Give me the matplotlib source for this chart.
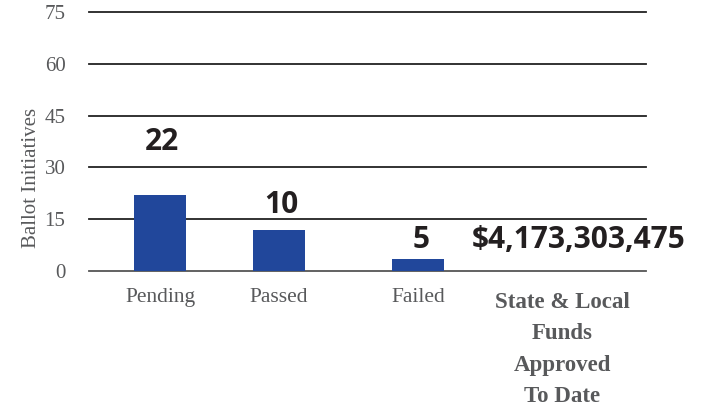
"""Ballot initiatives bar chart with state & local funds callout."""
import matplotlib
matplotlib.use("Agg")
import matplotlib.pyplot as plt

categories = ["Pending", "Passed", "Failed"]
bar_heights = [22, 12, 3.5]
value_labels = ["22", "10", "5"]
funds_label = "$4,173,303,475"
funds_caption = "State & Local\nFunds\nApproved\nTo Date"
y_ticks = [0, 15, 30, 45, 60, 75]

# layout (x in units of the first category spacing)
xpos = [0, 1, 2.17]
funds_x = 3.38
label_y = [37.5, 19, 9]

BLUE = "#21479b"
GRAY = "#58595b"
SERIF = "Liberation Serif"
SANS = "Open Sans"

fig = plt.figure(figsize=(7.08, 4.12), dpi=100)
ax = fig.add_axes([0.1257, 0.342, 0.7867, 0.629])
ax.bar(xpos, bar_heights, width=0.437, color=BLUE, zorder=3)
ax.set_xlim(-0.597, 4.083)
ax.set_ylim(0, 75)

for t in y_ticks:
    ax.axhline(t, color="#555555" if t == 0 else "#222222", lw=1.3, clip_on=False, zorder=2)

ax.set_yticks(y_ticks)
ax.set_yticklabels([str(t) for t in y_ticks], family=SERIF, fontsize=15, color=GRAY)
ax.tick_params(axis="y", length=0, pad=17)
ax.set_xticks(xpos)
ax.set_xticklabels(categories, family=SERIF, fontsize=15.5, color=GRAY)
ax.tick_params(axis="x", length=0, pad=12)
for s in ax.spines.values():
    s.set_visible(False)
ax.set_ylabel("Ballot Initiatives", family=SERIF, fontsize=15, color=GRAY)
ax.yaxis.set_label_coords(-0.087, 0.36)

for x, y, lab in zip(xpos, label_y, value_labels):
    ax.text(x + 0.02, y, lab, ha="center", va="center", family=SANS,
            fontweight="bold", fontsize=21.5, color="#231f20")
ax.text(funds_x + 0.14, label_y[2], funds_label, ha="center", va="center", family=SANS,
        fontweight="bold", fontsize=21.5, color="#231f20", clip_on=False)
ax.text(funds_x, -6.0, funds_caption, ha="center", va="top", family=SERIF,
        fontweight="bold", fontsize=16.5, color=GRAY, linespacing=1.65, clip_on=False)

fig.savefig("out.png", dpi=100)
